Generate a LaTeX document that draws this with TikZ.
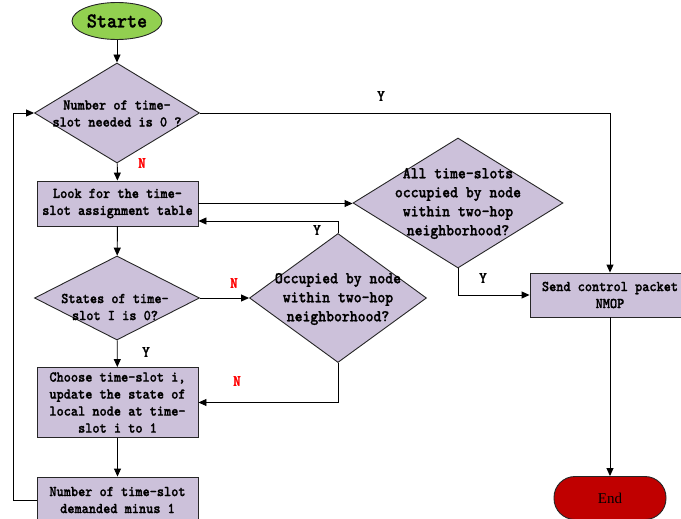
\documentclass[tikz,border=0pt]{standalone}
\usepackage{fontspec}
\usetikzlibrary{shapes.geometric,arrows.meta}
\newfontfamily\flowfont{lmmono10-regular.otf}[BoldFont=lmmonolt10-bold.otf,
  BoldFeatures={FakeBold=1.3}, FakeStretch=0.91]
\newfontfamily\endfont{Liberation Serif}
\definecolor{lav}{HTML}{CCC1DA}
\definecolor{startgreen}{HTML}{92D050}
\definecolor{endred}{HTML}{C00000}
\definecolor{nred}{HTML}{FF0000}

\begin{document}
\begin{tikzpicture}[x=1pt,y=-1pt,
  line/.style={line width=0.9pt, draw=black},
  arr/.style={line, -{Triangle[length=8pt,width=7pt]}},
  shapeline/.style={draw=black!85, line width=0.9pt},
  procbox/.style={rectangle, shapeline, fill=lav, inner sep=0pt, align=center,
    font=\flowfont\bfseries\fontsize{15}{17}\selectfont},
  decision/.style={diamond, shapeline, fill=lav, inner sep=0pt},
  dtext/.style={align=center, inner sep=0pt, font=\flowfont\bfseries\fontsize{15}{17}\selectfont},
  dtextbig/.style={align=center, inner sep=0pt, font=\flowfont\bfseries\fontsize{16.5}{19}\selectfont},
  yes/.style={inner sep=0pt, font=\flowfont\bfseries\fontsize{16}{18}\selectfont},
  no/.style={yes, text=nred}]

\useasboundingbox (0,0) rectangle (681,519);
\clip (0,0) rectangle (681,519);

% start / end terminals
\node[ellipse, shapeline, fill=startgreen, minimum width=90pt, minimum height=37pt,
      inner sep=0pt, font=\flowfont\bfseries\fontsize{21}{23}\selectfont] (start) at (117,21) {Starte};
\node[rectangle, rounded corners=21pt, shapeline, fill=endred, minimum width=112pt,
      minimum height=43pt, inner sep=0pt, font=\endfont\fontsize{15}{17}\selectfont] (end) at (610,498) {End};

% decisions
\node[decision, minimum width=165pt, minimum height=100pt] (d1) at (117,113) {};
\node[dtext] (d1t) at (117,113.5) {Number of time-\\slot needed is 0 ?};

\node[decision, minimum width=165pt, minimum height=84pt] (d2) at (117,298) {};
\node[dtext] (d2t) at (115,307) {States of time-\\slot I is 0?};

\node[decision, minimum width=177pt, minimum height=129pt] (d3) at (338,298) {};
\node[dtextbig] (d3t) at (338,299) {Occupied by node\\within two-hop\\neighborhood?};

\node[decision, minimum width=210pt, minimum height=130pt] (d4) at (458,203) {};
\node[dtextbig] (d4t) at (458,203.5) {All time-slots\\occupied by node\\within two-hop\\neighborhood?};

% process boxes
\node[procbox, minimum width=161pt, minimum height=45pt] (r1) at (117.5,203.5)
  {Look for the time-\\slot assignment table};
\node[procbox, minimum width=161pt, minimum height=70pt] (r2) at (117.5,402.5)
  {Choose time-slot i,\\update the state of\\local node at time-\\slot i to 1};
\node[procbox, minimum width=161pt, minimum height=46pt] (r3) at (117.5,500)
  {Number of time-slot\\demanded minus 1};
\node[procbox, minimum width=160pt, minimum height=44pt] (r4) at (610,295)
  {Send control packet\\NMOP};

% helper points for the routed connectors
\coordinate (r1in) at ([yshift=-17.5pt]r1.east);
\coordinate (loopleft) at (13,113);

% connectors
\draw[arr] (start) -- (d1);
\draw[arr] (d1) -- (r1);
\draw[arr] (d1.east) -| (r4.north);
\draw[arr] (r1.east) -- (r1.east -| d4.west);
\draw[arr] (d3.north) |- (r1in);
\draw[arr] (r1) -- (d2);
\draw[arr] (d2.east) -- (d2.east -| d3.west);
\draw[arr] (d2) -- (r2);
\draw[arr] (d3.south) |- (r2.east);
\draw[arr] (r2) -- (r3);
\draw[arr] (r3.west) -- (r3.west -| loopleft) -- (loopleft) -- (d1.west);
\draw[arr] (d4.south) |- (r4.west);
\draw[arr] (r4) -- (end);

% branch labels
\node[no]  (n1) at (142,163) {N};
\node[yes] (y1) at (381,96)  {Y};
\node[yes] (y2) at (317,230) {Y};
\node[no]  (n2) at (234,283) {N};
\node[yes] (y3) at (146,352) {Y};
\node[no]  (n3) at (237,381) {N};
\node[yes] (y4) at (483,278) {Y};

\end{tikzpicture}
\end{document}
